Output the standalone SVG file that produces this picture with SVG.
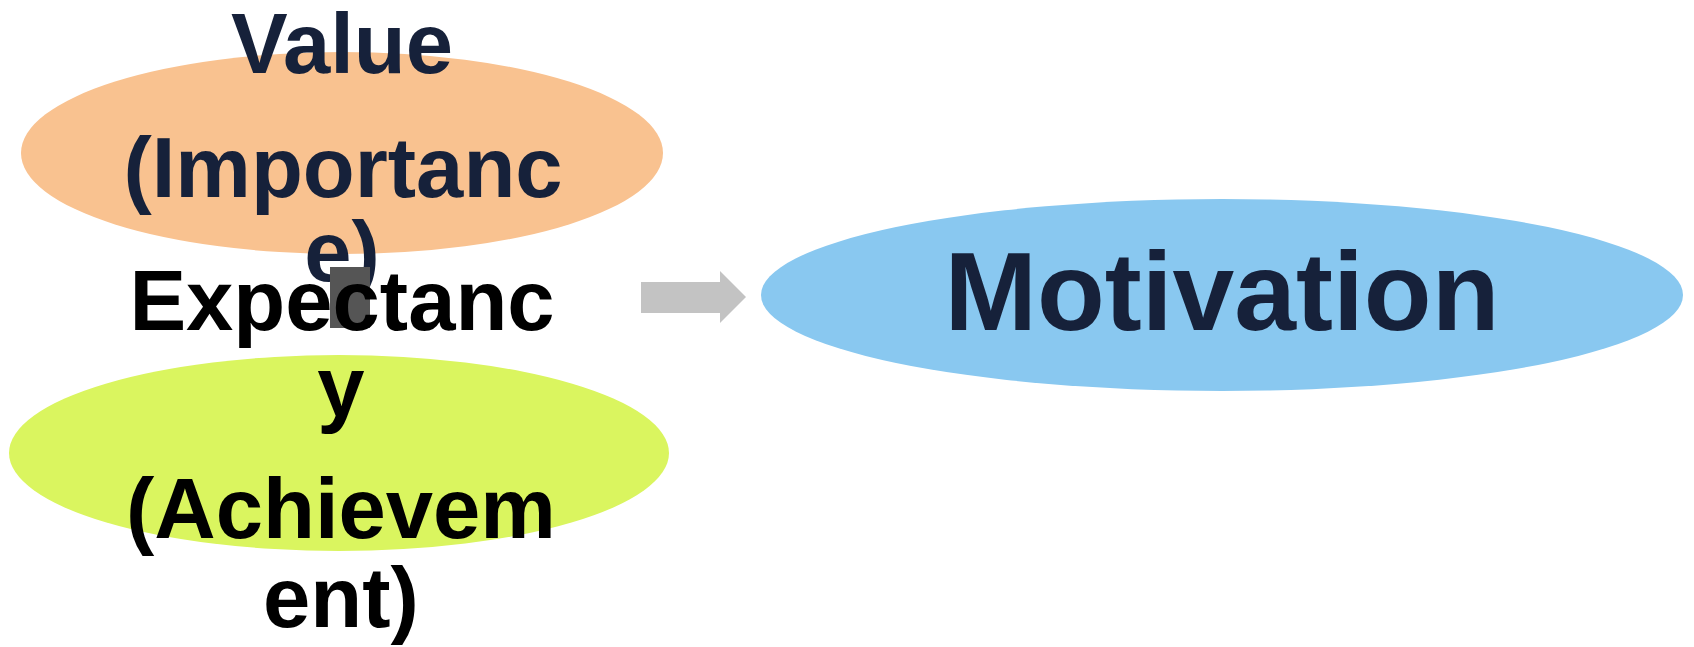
<svg xmlns="http://www.w3.org/2000/svg" width="1694" height="647" viewBox="0 0 1694 647">
<style>
.t{font-family:"Liberation Sans",Arial,sans-serif;font-weight:bold;text-anchor:middle}
.s{font-size:85px}
.navy{fill:#16213A}
.blk{fill:#000000}
</style>
<rect width="1694" height="647" fill="#ffffff"/>
<g id="node-value">
<ellipse cx="342" cy="153" rx="321" ry="101" fill="#F9C290"/>
</g>
<g id="node-expectancy">
<ellipse cx="339" cy="453" rx="330" ry="98" fill="#DAF55F"/>
</g>
<g id="node-motivation">
<ellipse cx="1222" cy="295" rx="461" ry="96" fill="#89C8F0"/>
<text class="t navy" x="1222" y="330" font-size="111">Motivation</text>
</g>
<g id="label-value">
<text class="t s navy" x="342" y="73">Value</text>
<text class="t s navy" x="343" y="197">(Importanc</text>
<text class="t s navy" x="342" y="281">e)</text>
</g>
<g id="marker-bar">
<rect x="330" y="267" width="40" height="61" fill="#555555"/>
</g>
<g id="label-expectancy">
<text class="t s blk" x="342" y="330">Expectanc</text>
<text class="t s blk" x="341" y="416">y</text>
<text class="t s blk" x="341" y="538">(Achievem</text>
<text class="t s blk" x="341" y="627">ent)</text>
</g>
<g id="connectors">
<polygon points="641,282 720,282 720,271 746,297 720,323 720,313 641,313" fill="#C3C3C3"/>
</g>
</svg>
